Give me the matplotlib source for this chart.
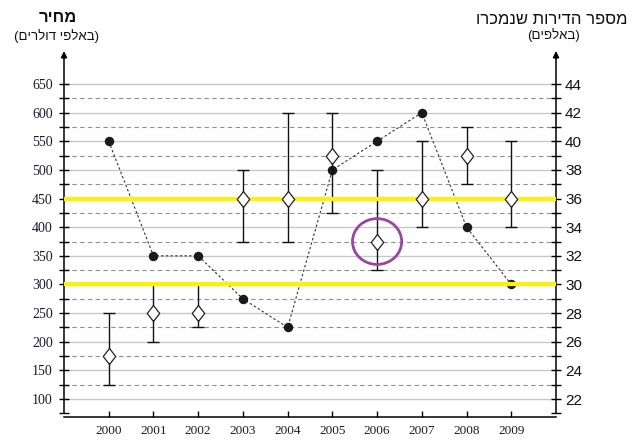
import numpy as np
from matplotlib import pyplot as plt
from matplotlib.patches import Ellipse

# data
years = [2000, 2001, 2002, 2003, 2004, 2005, 2006, 2007, 2008, 2009]
# price, thousands of dollars (left axis): typical value and range
price_mid = [175, 250, 250, 450, 450, 525, 375, 450, 525, 450]
price_low = [125, 200, 225, 375, 375, 425, 325, 400, 475, 400]
price_high = [250, 300, 300, 500, 600, 600, 500, 550, 575, 550]
# apartments sold, thousands (right axis)
sold = [40, 32, 32, 29, 27, 38, 40, 42, 34, 30]

# hand drawn marks on the reference
yellow_levels = [450, 300]
circle_year = 2006
circle_price = 375

left_major = list(range(100, 651, 50))
left_minor = list(range(75, 626, 50))
right_major = list(range(22, 45, 2))
right_minor = list(range(21, 44, 2))

left_title = "מחיר"
left_sub = "(באלפי דולרים)"
right_title = "מספר הדירות שנמכרו"
right_sub = "(באלפים)"


def heb(s):
    # matplotlib has no bidi support, so flip to visual order
    flipped = s[::-1]
    return flipped.translate(str.maketrans("()", ")("))


def left_to_right(v):
    return 22 + (v - 100) / 25.0


fig = plt.figure(figsize=(6.39, 4.44), dpi=100)
ax = fig.add_axes([64 / 639, 1 - 417 / 444, 492 / 639, 367 / 444])
ax2 = ax.twinx()

ylo, yhi = 68.6, 709.4
ax.set_xlim(1999, 2010)
ax.set_ylim(ylo, yhi)
ax2.set_ylim(left_to_right(ylo), left_to_right(yhi))

# price axis on top of the sold axis
ax.set_zorder(ax2.get_zorder() + 1)
ax.patch.set_visible(False)

# grid (right units)
ax2.hlines(right_major, 1999, 2010, colors='#c8c8c8', lw=1.0, zorder=1)
ax2.hlines(right_minor[1:], 1999, 2010, colors='#8f8f8f', lw=0.8,
           linestyles=(0, (4, 3)), zorder=1)

# apartments sold
ax2.plot(years, sold, color='#333333', lw=0.8, ls=(0, (2.2, 2)), zorder=2)
ax2.plot(years, sold, 'o', color='#1a1a1a', ms=5.8, zorder=3)

# price range
lo_err = np.array(price_mid) - np.array(price_low)
hi_err = np.array(price_high) - np.array(price_mid)
ax.errorbar(years, price_mid, yerr=[lo_err, hi_err], fmt='none',
            ecolor='#111111', elinewidth=1.0, capsize=4.5, capthick=1.0, zorder=2)

for lvl in yellow_levels:
    ax.hlines(lvl, 1999, 2010, colors='#fff200', lw=3.0, zorder=3)

diamond = [(0, -1), (0.78, 0), (0, 1), (-0.78, 0), (0, -1)]
ax.plot(years, price_mid, ls='none', marker=diamond, mfc='white', mec='#222222',
        mew=0.9, ms=11.5, zorder=4)

ax.add_patch(Ellipse((circle_year, circle_price), 1.1, 80, fill=False,
                     ec='#9a469e', lw=2.0, zorder=5))

# spines
for a in (ax, ax2):
    a.spines['top'].set_visible(False)
ax.spines['right'].set_visible(False)
ax2.spines['left'].set_visible(False)
ax2.spines['bottom'].set_visible(False)
ax.spines['left'].set_bounds(75, yhi - 8)
ax2.spines['right'].set_bounds(21, left_to_right(yhi - 8))
for a in (ax, ax2):
    for s in a.spines.values():
        s.set_linewidth(1.1)

ax.annotate('', xy=(1999, yhi + 3), xytext=(1999, yhi - 20),
            arrowprops=dict(arrowstyle='-|>', color='black', lw=1.1, mutation_scale=9),
            annotation_clip=False)
ax.annotate('', xy=(2010, yhi + 3), xytext=(2010, yhi - 20),
            arrowprops=dict(arrowstyle='-|>', color='black', lw=1.1, mutation_scale=9),
            annotation_clip=False)

# ticks
ax.set_xticks(years)
ax.set_xticklabels([str(y) for y in years])
ax.tick_params(axis='x', direction='in', length=4.5, width=1.0, pad=6,
               labelsize=9.5, labelcolor='#1a1a33')
ax.set_yticks(left_major)
ax.set_yticks(left_minor, minor=True)
ax.tick_params(axis='y', which='both', direction='inout', length=7, width=1.0,
               pad=4.5, labelsize=10, labelcolor='#1a1a33')
for lab in ax.get_xticklabels() + ax.get_yticklabels():
    lab.set_fontfamily('Liberation Serif')

ax2.set_yticks(right_major)
ax2.set_yticks(right_minor, minor=True)
ax2.tick_params(axis='y', which='both', direction='inout', length=7, width=1.0,
                pad=3, labelsize=11, labelcolor='#111111')
for lab in ax2.get_yticklabels():
    lab.set_fontfamily('Liberation Sans')

# headings
fig.text(58 / 639, 1 - 17 / 444, heb(left_title), ha='center', va='center',
         fontsize=12, fontweight='bold', family='Liberation Sans', color='#111111')
fig.text(57 / 639, 1 - 36 / 444, heb(left_sub), ha='center', va='center',
         fontsize=9.5, family='Liberation Sans', color='#111111')
fig.text(552 / 639, 1 - 19 / 444, heb(right_title), ha='center', va='center',
         fontsize=12, family='Liberation Sans', color='#111111')
fig.text(553 / 639, 1 - 35 / 444, heb(right_sub), ha='center', va='center',
         fontsize=9.5, family='Liberation Sans', color='#111111')

fig.savefig('out.png', dpi=100)
